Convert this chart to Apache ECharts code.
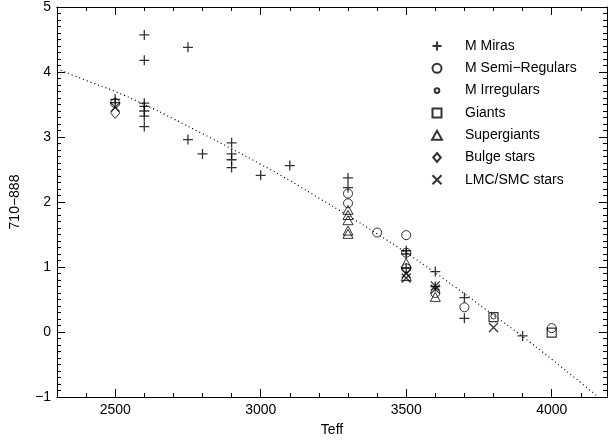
<!DOCTYPE html>
<html>
<head>
<meta charset="utf-8">
<script src="https://cdn.jsdelivr.net/npm/echarts@6/dist/echarts.min.js"></script>
<style>
html,body{margin:0;padding:0;background:#fff;}
#chart{width:610px;height:442px;}
</style>
</head>
<body>
<div id="chart"></div>
<script>
// ---- data (Teff, 710-888) ----
var mirasData = [
  [2500,3.58],[2500,3.53],
  [2600,4.57],[2600,4.18],[2600,3.52],[2600,3.47],[2600,3.40],[2600,3.32],[2600,3.16],
  [2750,4.38],[2750,2.96],[2800,2.74],
  [2900,2.91],[2900,2.74],[2900,2.65],[2900,2.53],
  [3000,2.41],[3100,2.56],
  [3300,2.37],[3300,2.22],
  [3500,1.25],[3500,1.20],[3500,0.98],
  [3600,0.93],[3600,0.70],
  [3700,0.53],[3700,0.21],
  [3900,-0.06]
];
var semiRegData = [[2500,3.52],[3300,2.13],[3300,1.98],[3400,1.53],[3500,1.49],[3500,1.22],[3500,0.98],[3600,0.60],[3700,0.38],[4000,0.06]];
var irregData = [[3800,0.24]];
var giantsData = [[3800,0.23],[4000,-0.01]];
var superData = [[3300,1.88],[3300,1.80],[3300,1.72],[3300,1.56],[3300,1.51],[3500,1.06],[3500,0.86],[3600,0.54]];
var bulgeData = [[2500,3.37]];
var lmcData = [[2500,3.46],[3500,0.90],[3500,0.83],[3600,0.71],[3600,0.66],[3800,0.07]];

// dotted fit curve
var fitTeff  = [2300,2400,2500,2600,2700,2800,2900,3000,3100,3200,3300,3400,3500,3600,3700,3800,3900,4000,4100,4160];
var fitValue = [4.05,3.87,3.70,3.50,3.28,3.05,2.82,2.58,2.33,2.06,1.79,1.51,1.22,0.91,0.59,0.26,-0.07,-0.42,-0.78,-1.00];

// ticks
var xLabels = [2500,3000,3500,4000];
var xMajorTicks = [2500,3000,3500,4000];
var xMinorTicks = [2400,2600,2700,2800,2900,3100,3200,3300,3400,3600,3700,3800,3900,4100];
var seriesNames = ['M Miras','M Semi\u2212Regulars','M Irregulars','Giants','Supergiants','Bulge stars','LMC/SMC stars'];

var FONT = 'Liberation Sans';
var FS = 14;
var plusPath = 'path://M0,5L10,5M5,0L5,10';
var crossPath = 'path://M0,0L10,10M0,10L10,0';
var circlePath = 'path://M10,5A5,5 0 1 1 0,5A5,5 0 1 1 10,5Z';
var smallCirclePath = 'path://M0,0M10,10M7.6,5A2.6,2.6 0 1 1 2.4,5A2.6,2.6 0 1 1 7.6,5Z';
var squarePath = 'path://M0,0L10,0L10,10L0,10Z';
var trianglePath = 'path://M5,0L10,9L0,9Z';
var diamondPath = 'path://M5,0L10,6L5,12L0,6Z';

var fitData = fitTeff.map(function(t,i){ return [t, fitValue[i]]; });

var axLine = {show:true, onZero:false, lineStyle:{color:'#000', width:1}};
function xAx(pos, ticks, len, labels){
  return {
    type:'value', position:pos, min:2300, max:4190,
    splitLine:{show:false},
    axisLine: axLine,
    axisTick:{show:true, inside:true, length:len, customValues:ticks, lineStyle:{color:'#000'}},
    axisLabel: labels ? {show:true, customValues:xLabels, margin:6, color:'#000', fontSize:FS, fontFamily:FONT,
      formatter:function(v){ return String(v); }} : {show:false}
  };
}
function yAx(pos, labels){
  return {
    type:'value', position:pos, min:-1, max:5, interval:1,
    splitLine:{show:false},
    axisLine: axLine,
    axisTick:{show:true, inside:true, length:8, lineStyle:{color:'#000'}},
    minorTick:{show:true, splitNumber:10, length:4, lineStyle:{color:'#000'}},
    axisLabel: labels ? {show:true, margin:6, color:'#000', fontSize:FS, fontFamily:FONT,
      formatter:function(v){ return String(v).replace('-', '\u2212'); }} : {show:false}
  };
}

var xAxes = [xAx('bottom', xMajorTicks, 8, true), xAx('bottom', xMinorTicks, 4, false),
             xAx('top', xMajorTicks, 8, false), xAx('top', xMinorTicks, 4, false)];
xAxes[0].name = 'Teff';
xAxes[0].nameLocation = 'middle';
xAxes[0].nameGap = 26;
xAxes[0].nameTextStyle = {color:'#000', fontSize:FS, fontFamily:FONT};

var yAxes = [yAx('left', true), yAx('right', false)];
yAxes[0].name = '710\u2212888';
yAxes[0].nameLocation = 'middle';
yAxes[0].nameGap = 35;
yAxes[0].nameRotate = 90;
yAxes[0].nameTextStyle = {color:'#000', fontSize:FS, fontFamily:FONT};

function sc(name, data, symbol, size, bw){
  return {
    type:'scatter', name:name, data:data, symbol:symbol, symbolSize:size,
    symbolKeepAspect:true,
    xAxisIndex:0, yAxisIndex:0,
    itemStyle:{color:'rgba(0,0,0,0)', borderColor:'#000', borderWidth:bw || 1},
    emphasis:{disabled:true}, z:3
  };
}

var option = {
  animation:false,
  backgroundColor:'#fff',
  textStyle:{fontFamily:FONT},
  grid:{left:55, right:3, top:6, bottom:43, containLabel:false},
  xAxis: xAxes,
  yAxis: yAxes,
  legend:{
    orient:'vertical', left:426, top:34,
    itemWidth:46, itemHeight:9, itemGap:8.3,
    data: seriesNames,
    textStyle:{color:'#000', fontSize:FS, fontFamily:FONT},
    selectedMode:false
  },
  series:[
    {type:'line', name:'fit', data:fitData, smooth:true, showSymbol:false, symbol:'none',
     lineStyle:{color:'#000', width:1.2, type:[1,3]}, xAxisIndex:0, yAxisIndex:0, z:2, silent:true},
    sc(seriesNames[0], mirasData, plusPath, 10, 1.3),
    sc(seriesNames[1], semiRegData, circlePath, 9, 1),
    sc(seriesNames[2], irregData, smallCirclePath, 10, 1),
    sc(seriesNames[3], giantsData, squarePath, 9, 1.2),
    sc(seriesNames[4], superData, trianglePath, 10, 1),
    sc(seriesNames[5], bulgeData, diamondPath, 11, 1),
    sc(seriesNames[6], lmcData, crossPath, 9, 1.3)
  ]
};

var chart = echarts.init(document.getElementById('chart'), null, {renderer:'canvas'});
chart.setOption(option);
</script>
</body>
</html>
